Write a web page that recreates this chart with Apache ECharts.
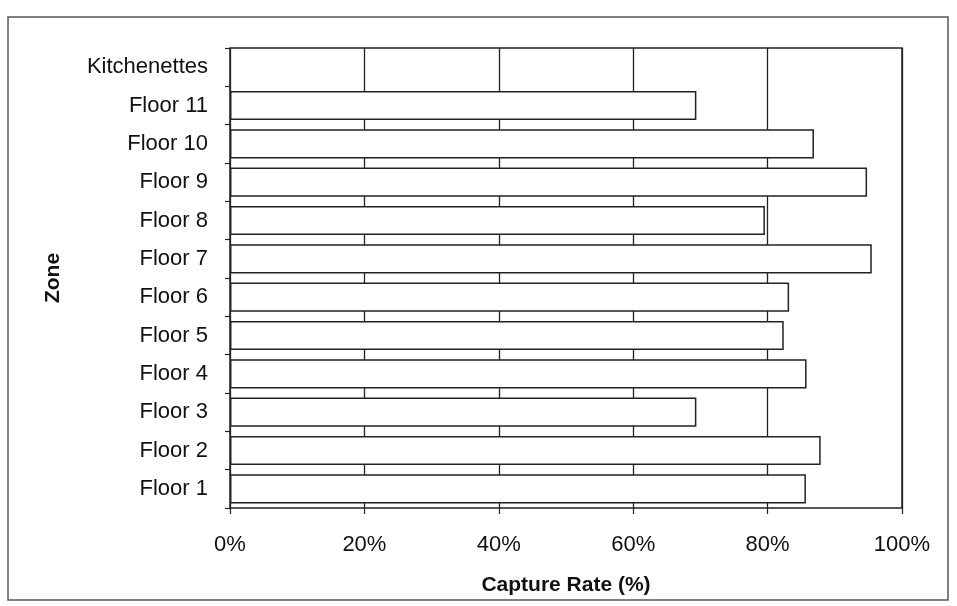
<!DOCTYPE html>
<html>
<head>
<meta charset="utf-8">
<script src="https://cdn.jsdelivr.net/npm/echarts@6/dist/echarts.min.js"></script>
<style>
  html, body { margin: 0; padding: 0; background: #fff; }
  #main { width: 957px; height: 606px; }
</style>
</head>
<body>
<div id="main"></div>
<script>
// zones, bottom to top
var zones = ['Floor 1', 'Floor 2', 'Floor 3', 'Floor 4', 'Floor 5', 'Floor 6',
  'Floor 7', 'Floor 8', 'Floor 9', 'Floor 10', 'Floor 11', 'Kitchenettes']
// capture rate in %, no bar for kitchenettes
var captureRate = [85.7, 87.9, 69.4, 85.8, 82.4, 83.2, 95.5, 79.6, 94.8, 86.9, 69.4, null]
var xTicks = [0, 20, 40, 60, 80, 100]

var chart = echarts.init(document.getElementById('main'))
var font = 'Liberation Sans, Arial, sans-serif'

chart.setOption({
  animation: false,
  backgroundColor: '#fff',
  graphic: [{
    type: 'rect',
    shape: { x: 8, y: 17, width: 940, height: 583 },
    style: { fill: 'none', stroke: '#555', lineWidth: 1.5 }
  }, {
    // top/right frame of the plot area
    type: 'polyline',
    shape: { points: [[230, 48], [902, 48], [902, 508]] },
    style: { fill: 'none', stroke: '#222', lineWidth: 1.5 }
  }],
  grid: { left: 230, top: 48, right: 55, bottom: 98 },
  xAxis: {
    type: 'value',
    min: xTicks[0],
    max: xTicks[xTicks.length - 1],
    interval: 20,
    name: 'Capture Rate (%)',
    nameLocation: 'middle',
    nameGap: 67,
    nameTextStyle: { fontFamily: font, fontSize: 21, fontWeight: 'bold', color: '#111' },
    axisLine: { show: true, lineStyle: { color: '#222', width: 1.5 } },
    axisTick: { show: true, inside: false, length: 6, lineStyle: { color: '#222', width: 1.2 } },
    axisLabel: {
      margin: 26,
      fontFamily: font, fontSize: 22, color: '#111',
      formatter: function (v) { return v + '%' }
    },
    splitLine: { show: true, lineStyle: { color: '#222', width: 1.3 } }
  },
  yAxis: {
    type: 'category',
    data: zones,
    name: 'Zone',
    nameLocation: 'middle',
    nameGap: 166,
    nameRotate: 90,
    nameTextStyle: { fontFamily: font, fontSize: 21, fontWeight: 'bold', color: '#111' },
    axisLine: { show: true, lineStyle: { color: '#222', width: 1.5 } },
    axisTick: { show: true, length: 5, lineStyle: { color: '#222', width: 1.2 } },
    axisLabel: { margin: 22, padding: [6, 0, 0, 0], fontFamily: font, fontSize: 22, color: '#111' },
    splitLine: { show: false }
  },
  series: [{
    type: 'bar',
    data: captureRate,
    barCategoryGap: '24%',
    itemStyle: { color: '#fff', borderColor: '#222', borderWidth: 1.5 }
  }]
})
</script>
</body>
</html>
